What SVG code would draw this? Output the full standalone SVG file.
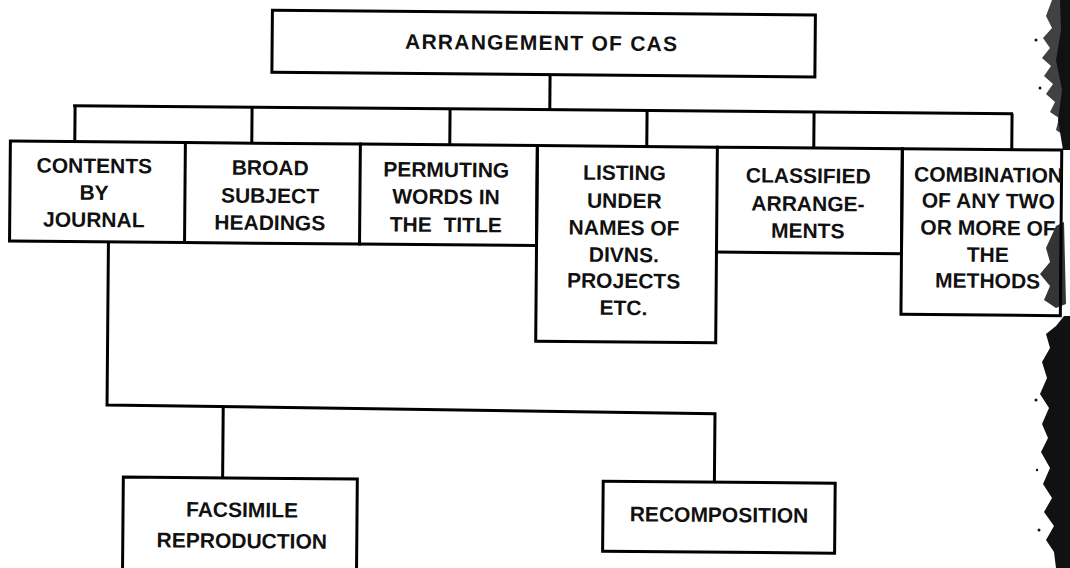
<svg xmlns="http://www.w3.org/2000/svg" width="1070" height="568" viewBox="0 0 1070 568">
<style>
.b{fill:none;stroke:#000;stroke-width:3;stroke-linecap:square}
.c{fill:none;stroke:#000;stroke-width:3}
.t{font-family:"Liberation Sans",Arial,sans-serif;font-weight:bold;font-size:21px;fill:#111;text-anchor:middle}
.n{fill:#111}
</style>
<rect width="1070" height="568" fill="#fff"/>
<g id="scan-edge">
<path class="n" d="M1052 0 H1070 V150 L1066 146 L1062 134 L1056 130 L1059 118 L1050 112 L1055 102 L1046 94 L1053 84 L1044 76 L1051 66 L1042 58 L1050 48 L1043 38 L1052 28 L1046 16 Z" opacity="0.8"/>
<path class="n" d="M1060 0 H1070 V150 H1063 L1058 120 L1062 90 L1056 60 L1061 30 Z"/>
<path class="n" d="M1056 226 L1064 222 L1066 304 L1056 308 L1044 300 L1050 286 L1040 274 L1050 262 L1046 248 Z" opacity="0.85"/>
<path class="n" d="M1064 316 H1070 V568 H1056 L1054 552 L1046 540 L1054 526 L1044 512 L1052 498 L1043 484 L1050 468 L1041 452 L1048 438 L1042 424 L1049 408 L1040 394 L1047 378 L1042 362 L1050 348 L1046 334 L1056 326 Z"/>
<circle class="n" cx="1036" cy="40" r="1.5"/><circle class="n" cx="1040" cy="88" r="1.5"/><circle class="n" cx="1036" cy="400" r="1.5"/><circle class="n" cx="1037" cy="470" r="1.2"/><circle class="n" cx="1039" cy="530" r="1.5"/>
</g>
<g transform="rotate(0.49)">
<g id="connectors">
<path class="c" d="M550.7 70 V105"/>
<path class="c" d="M74 105 H1014"/>
<path class="c" d="M76 105 V141 M253 105 V141 M451 105 V141 M648 105 V141 M815 105 V141 M1013 105 V141"/>
<path class="c" d="M110.5 241 V404 L718.5 407.5 V476"/>
<path class="c" d="M226.7 405.5 V476"/>
</g>
<g id="root">
<rect class="b" x="272.5" y="8" width="543" height="62"/>
<text class="t" x="541.4" y="45.4" textLength="272" lengthAdjust="spacing">ARRANGEMENT OF CAS</text>
</g>
<g id="n1">
<path class="b" d="M11.6 141 H186.6 V241 H11.6 Z"/>
<text class="t" x="95.7" y="172.2">CONTENTS</text>
<text class="t" x="95.7" y="199.2">BY</text>
<text class="t" x="95.7" y="226.2">JOURNAL</text>
</g>
<g id="n2">
<path class="b" d="M186.6 141 H361.6 V241 H186.6"/>
<text class="t" x="271.7" y="172.7">BROAD</text>
<text class="t" x="271.7" y="200.7">SUBJECT</text>
<text class="t" x="271.7" y="227.7">HEADINGS</text>
</g>
<g id="n3">
<path class="b" d="M361.6 141 H538.6 V241 H361.6"/>
<text class="t" x="447.7" y="173.2">PERMUTING</text>
<text class="t" x="447.7" y="200.2">WORDS IN</text>
<text class="t" x="447.7" y="228.2" xml:space="preserve">THE  TITLE</text>
</g>
<g id="n4">
<path class="b" d="M538.6 141 H718.6 V336.7 H538.6 Z"/>
<text class="t" x="626" y="174.7">LISTING</text>
<text class="t" x="626" y="202.7">UNDER</text>
<text class="t" x="626" y="229.7">NAMES OF</text>
<text class="t" x="626" y="256.7">DIVNS.</text>
<text class="t" x="626" y="282.7">PROJECTS</text>
<text class="t" x="626" y="309.7">ETC.</text>
</g>
<g id="n5">
<path class="b" d="M718.6 141 H903.6 V246 H718.6"/>
<text class="t" x="809.7" y="176.1">CLASSIFIED</text>
<text class="t" x="809.7" y="204.1">ARRANGE-</text>
<text class="t" x="809.7" y="231.1">MENTS</text>
</g>
<g id="n6">
<path class="b" d="M903.6 141 H1063 V306.6 H903.6 Z"/>
<text class="t" x="990" y="173.6">COMBINATION</text>
<text class="t" x="990" y="199.6">OF ANY TWO</text>
<text class="t" x="990" y="226.6">OR MORE OF</text>
<text class="t" x="990" y="253.6">THE</text>
<text class="t" x="990" y="279.6">METHODS</text>
</g>
<g id="n7">
<path class="b" d="M127.4 585 V476 H361.4 V585"/>
<text class="t" x="246.4" y="515">FACSIMILE</text>
<text class="t" x="246.4" y="546">REPRODUCTION</text>
</g>
<g id="n8">
<rect class="b" x="607.3" y="476" width="232" height="70"/>
<text class="t" x="723.4" y="515.9">RECOMPOSITION</text>
</g>
</g>
</svg>
